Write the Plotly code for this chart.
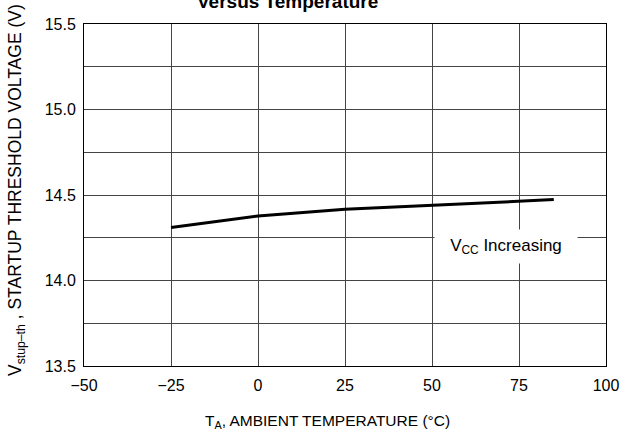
import plotly.graph_objects as go

# data
temp_c = [-25, 0, 25, 50, 75, 85]
v_stup = [14.31, 14.377, 14.416, 14.44, 14.463, 14.473]

x_ticks = [-50, -25, 0, 25, 50, 75, 100]
x_labels = ["\u221250", "\u221225", "0", "25", "50", "75", "100"]
y_ticks = [13.5, 13.75, 14.0, 14.25, 14.5, 14.75, 15.0, 15.25, 15.5]
y_labels = ["13.5", "", "14.0", "", "14.5", "", "15.0", "", "15.5"]

FONT = "Liberation Sans, Arial, sans-serif"
GRID = "#444"

fig = go.Figure(
    go.Scatter(x=temp_c, y=v_stup, mode="lines",
               line=dict(color="black", width=3), showlegend=False,
               hoverinfo="skip")
)

fig.update_layout(
    width=627, height=435,
    margin=dict(l=84, r=21, t=24, b=69),
    paper_bgcolor="white", plot_bgcolor="white",
    font=dict(family=FONT, size=16, color="black"),
)

fig.update_xaxes(
    range=[-50, 100], tickvals=x_ticks, ticktext=x_labels,
    showgrid=True, gridcolor=GRID, gridwidth=1,
    showline=True, linecolor="black", linewidth=1, mirror=True,
    ticks="", zeroline=False, automargin=False, ticklabelstandoff=5,
)
fig.update_yaxes(
    range=[13.5, 15.5], tickvals=y_ticks, ticktext=y_labels,
    showgrid=True, gridcolor=GRID, gridwidth=1,
    showline=True, linecolor="black", linewidth=1, mirror=True,
    ticks="", zeroline=False, automargin=False, ticklabelstandoff=4,
)

# title (top part clipped in the reference)
fig.add_annotation(
    x=0.39, y=1.029, xref="paper", yref="paper", xanchor="center", yanchor="bottom",
    text="<b>Versus Temperature</b>", showarrow=False, font=dict(size=19),
)
# axis titles
fig.add_annotation(
    x=0.466, y=-0.161, xref="paper", yref="paper", xanchor="center", yanchor="middle",
    text="T<sub>A</sub>, AMBIENT TEMPERATURE (\u00b0C)", showarrow=False,
    font=dict(size=15.5),
)
fig.add_annotation(
    x=-0.128, y=0.515, xref="paper", yref="paper", xanchor="center", yanchor="middle",
    textangle=-90,
    text="V<sub>stup\u2013th</sub> , STARTUP THRESHOLD VOLTAGE (V)", showarrow=False,
    font=dict(size=17.5),
)

fig.add_annotation(
    x=71.3, y=14.199, xref="x", yref="y",
    text="V<sub>CC</sub> Increasing", showarrow=False, font=dict(size=17),
    bgcolor="white", borderpad=7, width=128, height=19,
)

# drop the default 8px page margin so the figure sits at the window corner
fig.write_html("out.html", config={"displayModeBar": False},
               post_script="document.body.style.margin='0';")
